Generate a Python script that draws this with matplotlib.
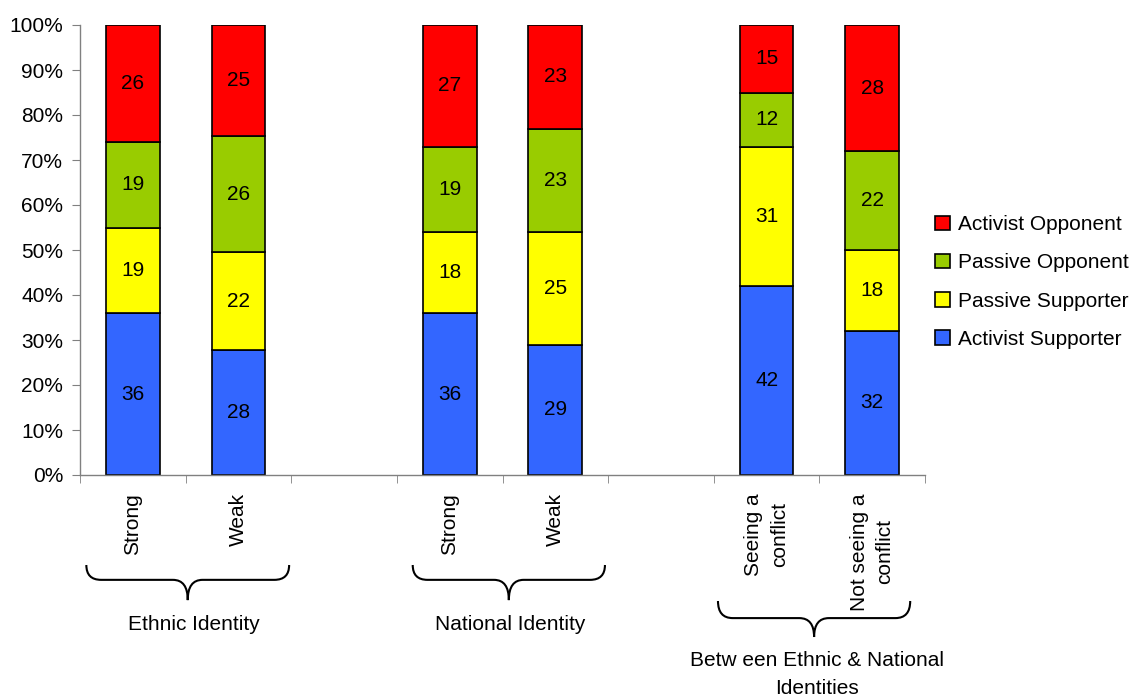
import matplotlib
matplotlib.use("Agg")
import matplotlib.pyplot as plt
import matplotlib.transforms as mtransforms
from matplotlib.path import Path
from matplotlib.patches import PathPatch, Patch
import numpy as np

# ── Data ─────────────────────────────────────────────────────────
categories = ["Strong", "Weak", "", "Strong", "Weak", "", "Seeing a\nconflict", "Not seeing a\nconflict"]
activist_supporter = [36, 28, 0, 36, 29, 0, 42, 32]
passive_supporter = [19, 22, 0, 18, 25, 0, 31, 18]
passive_opponent = [19, 26, 0, 19, 23, 0, 12, 22]
activist_opponent = [26, 25, 0, 27, 23, 0, 15, 28]
series_names = ["Activist Supporter", "Passive Supporter", "Passive Opponent", "Activist Opponent"]
group_labels = ["Ethnic Identity", "National Identity", "Betw een Ethnic & National\nIdentities"]

# ── Styling ──────────────────────────────────────────────────────
COLORS = ["#3366FF", "#FFFF00", "#99CC00", "#FF0000"]
AXIS_GREY = "#808080"
FONT = "Liberation Sans"
FS = 15

plt.rcParams.update({
    "font.family": FONT,
    "font.size": FS,
})

fig = plt.figure(figsize=(11.33, 7), dpi=100)
ax = fig.add_axes([80 / 1133, 1 - 475 / 700, 845 / 1133, 450 / 700])

series = [activist_supporter, passive_supporter, passive_opponent, activist_opponent]
raw = np.array(series, dtype=float)
totals = raw.sum(axis=0)
pct = np.divide(raw * 100, totals, out=np.zeros_like(raw), where=totals > 0)

x = np.arange(len(categories))
bottom = np.zeros(len(categories))
mask = totals > 0
for vals, p, color, name in zip(series, pct, COLORS, series_names):
    ax.bar(x[mask], p[mask], 0.51, bottom=bottom[mask], color=color,
           edgecolor="black", linewidth=1.2, label=name)
    for xi, v, pv, b in zip(x[mask], np.array(vals)[mask], p[mask], bottom[mask]):
        ax.text(xi, b + pv / 2, f"{v}", ha="center", va="center", fontsize=FS)
    bottom += p

ax.set_xlim(-0.5, len(categories) - 0.5)
ax.set_ylim(0, 100)
ax.set_yticks(np.arange(0, 101, 10))
ax.set_yticklabels([f"{v}%" for v in range(0, 101, 10)], fontsize=FS)
ax.tick_params(axis="y", direction="out", length=6, color=AXIS_GREY, pad=6)

ax.set_xticks(x)
ax.set_xticklabels(categories, rotation=90, va="top", ha="center",
                   multialignment="center", fontsize=FS)
for lbl in ax.get_xticklabels():
    lbl.set_linespacing(1.45)
ax.set_xticks(np.arange(-0.5, len(categories)), minor=True)
ax.tick_params(axis="x", which="major", length=0, pad=13)
ax.tick_params(axis="x", which="minor", length=6, color=AXIS_GREY)

for s in ["top", "right"]:
    ax.spines[s].set_visible(False)
for s in ["left", "bottom"]:
    ax.spines[s].set_color(AXIS_GREY)
    ax.spines[s].set_linewidth(1.0)


# ── Braces under the groups ──────────────────────────────────────
def brace(x0, x1, y_top, y_mid, y_tip, r=0.14):
    xm = (x0 + x1) / 2
    trans = mtransforms.blended_transform_factory(ax.transData, ax.transAxes)
    verts = [
        (x0, y_top), (x0, y_mid), (x0 + r, y_mid),
        (xm - r, y_mid),
        (xm, y_mid), (xm, y_tip),
        (xm, y_mid), (xm + r, y_mid),
        (x1 - r, y_mid),
        (x1, y_mid), (x1, y_top),
    ]
    codes = [Path.MOVETO, Path.CURVE3, Path.CURVE3, Path.LINETO,
             Path.CURVE3, Path.CURVE3, Path.CURVE3, Path.CURVE3,
             Path.LINETO, Path.CURVE3, Path.CURVE3]
    patch = PathPatch(Path(verts, codes), transform=trans, fill=False,
                      edgecolor="black", linewidth=1.5, clip_on=False)
    ax.add_patch(patch)


brace(-0.44, 1.48, -0.20, -0.233, -0.278)
brace(2.65, 4.47, -0.20, -0.233, -0.278)
brace(5.54, 7.36, -0.28, -0.318, -0.36)

label_trans = mtransforms.blended_transform_factory(ax.transData, ax.transAxes)
ax.text(0.58, -0.333, group_labels[0], transform=label_trans, ha="center", va="center", fontsize=FS)
ax.text(3.57, -0.333, group_labels[1], transform=label_trans, ha="center", va="center", fontsize=FS)
ax.text(6.48, -0.443, group_labels[2], transform=label_trans, ha="center", va="center",
        fontsize=FS, linespacing=1.6)

# ── Legend ───────────────────────────────────────────────────────
handles = [Patch(facecolor=c, edgecolor="black", linewidth=1.2, label=n)
           for c, n in zip(COLORS, series_names)][::-1]
fig.legend(handles=handles, loc="center left", bbox_to_anchor=(929 / 1133, 1 - 282 / 700),
           frameon=False, fontsize=FS, handlelength=0.7, handleheight=0.7,
           handletextpad=0.4, labelspacing=0.92, borderaxespad=0, borderpad=0.3)

fig.savefig("out.png", dpi=100)
